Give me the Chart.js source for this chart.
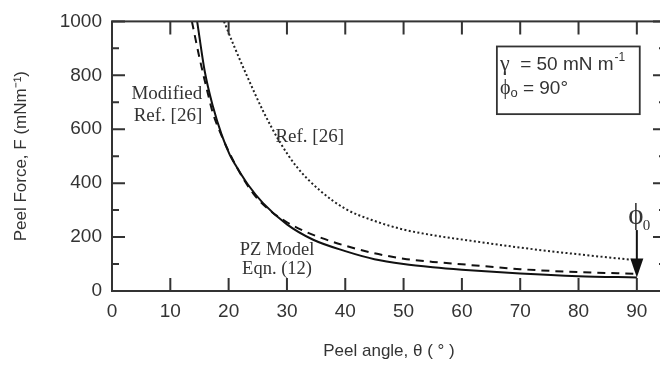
<!DOCTYPE html>
<html lang="en">
<head>
<meta charset="UTF-8">
<title>Peel force vs peel angle</title>
<script src="https://cdn.jsdelivr.net/npm/chart.js"></script>
<style>
  html, body { margin: 0; padding: 0; background: #fff; overflow: hidden; }
  #wrap { width: 660px; height: 366px; overflow: hidden; }
</style>
</head>
<body>
<div id="wrap"><canvas id="peelChart" width="668" height="366"></canvas></div>
<script>
// axis ticks
const xTicks = [0, 10, 20, 30, 40, 50, 60, 70, 80, 90];
const yTicks = [0, 200, 400, 600, 800, 1000];
const yMinorTicks = [100, 300, 500, 700, 900];

// PZ Model, Eqn. (12) - solid
const thetaPZ = [14.6, 15.9, 17.3, 18.8, 20.2, 21.1, 23.3, 25.9, 30, 34.5, 40, 45, 50, 55, 60, 70, 80, 90];
const forcePZ = [1000, 815, 685, 580, 505, 470, 395, 326, 247, 190, 148, 118, 100, 88, 79, 65, 55, 50];

// Modified Ref. [26] - dashed
const thetaMod = [13.7, 15.0, 16.3, 17.3, 19, 21.4, 24.2, 27, 30, 33, 36, 40, 45, 50, 55, 60, 70, 80, 90];
const forceMod = [1000, 865, 745, 660, 566, 459, 362, 300, 255, 222, 196, 168, 140, 120, 108, 99, 81, 70, 64];

// Ref. [26] - dotted
const thetaRef = [19.2, 21, 23.1, 25.9, 28.8, 31.7, 35.7, 40, 45, 50, 55, 60, 70, 80, 90];
const forceRef = [1000, 905, 800, 668, 552, 460, 372, 305, 260, 228, 207, 191, 161, 136, 114];

const ink = '#333';
const sans = 'Liberation Sans, Arial, sans-serif';
const serif = 'Liberation Serif, Times New Roman, serif';

function pts(xs, ys) {
    return xs.map((x, i) => ({ x: x, y: ys[i] }));
}

const framePlugin = {
    id: 'frame',
    afterDatasetsDraw(chart) {
        const ctx = chart.ctx;
        const area = chart.chartArea;
        const xs = chart.scales.x, ys = chart.scales.y;
        const px = v => xs.getPixelForValue(v);
        const py = v => ys.getPixelForValue(v);

        ctx.save();
        ctx.strokeStyle = ink;
        ctx.lineWidth = 2;
        ctx.strokeRect(area.left, area.top, area.right - area.left, area.bottom - area.top);

        // inward ticks on all four sides
        ctx.beginPath();
        xTicks.forEach(v => {
            const x = px(v);
            ctx.moveTo(x, area.bottom); ctx.lineTo(x, area.bottom - 13);
            ctx.moveTo(x, area.top); ctx.lineTo(x, area.top + 13);
        });
        yTicks.forEach(v => {
            const y = py(v);
            ctx.moveTo(area.left, y); ctx.lineTo(area.left + 13, y);
            ctx.moveTo(area.right, y); ctx.lineTo(area.right - 13, y);
        });
        yMinorTicks.forEach(v => {
            const y = py(v);
            ctx.moveTo(area.left, y); ctx.lineTo(area.left + 7, y);
            ctx.moveTo(area.right, y); ctx.lineTo(area.right - 7, y);
        });
        ctx.stroke();

        // curve labels
        ctx.fillStyle = ink;
        ctx.textAlign = 'center';
        ctx.textBaseline = 'middle';
        ctx.font = '19px ' + serif;
        ctx.fillText('Modified', px(9.4), py(731));
        ctx.fillText('Ref. [26]', px(9.6), py(649));
        ctx.fillText('Ref. [26]', px(33.9), py(573));
        ctx.font = '18.5px ' + serif;
        ctx.fillText('PZ Model', px(28.3), py(151));
        ctx.fillText('Eqn. (12)', px(28.3), py(82));

        // parameter box
        const bx0 = px(66), bx1 = px(90.5), by0 = py(907), by1 = py(656);
        ctx.lineWidth = 1.8;
        ctx.strokeRect(bx0, by0, bx1 - bx0, by1 - by0);
        ctx.textAlign = 'left';
        ctx.textBaseline = 'alphabetic';
        let x = bx0 + 3;
        let base = py(820);
        ctx.font = '22px ' + serif;
        ctx.fillText('\u03b3', x, base);
        x += ctx.measureText('\u03b3').width;
        ctx.font = '19px ' + sans;
        ctx.fillText('  = 50 mN m', x, base);
        x += ctx.measureText('  = 50 mN m').width + 1;
        ctx.font = '12px ' + sans;
        ctx.fillText('-1', x, base - 9);

        x = bx0 + 3;
        base = py(730);
        ctx.font = '20px ' + serif;
        ctx.fillText('\u03d5', x, base);
        x += ctx.measureText('\u03d5').width;
        ctx.font = '13px ' + sans;
        ctx.fillText('o', x, base + 3);
        x += ctx.measureText('o').width;
        ctx.font = '19px ' + sans;
        ctx.fillText(' = 90\u00b0', x, base);

        // phi_0 arrow at 90 degrees
        const ax = px(90);
        const tipY = py(50);
        ctx.strokeStyle = '#111';
        ctx.fillStyle = '#111';
        ctx.lineWidth = 2;
        ctx.beginPath();
        ctx.moveTo(ax, py(226));
        ctx.lineTo(ax, tipY - 16);
        ctx.stroke();
        ctx.beginPath();
        ctx.moveTo(ax - 6.5, tipY - 19);
        ctx.lineTo(ax + 6.5, tipY - 19);
        ctx.lineTo(ax, tipY);
        ctx.closePath();
        ctx.fill();

        ctx.fillStyle = ink;
        ctx.textAlign = 'center';
        ctx.textBaseline = 'middle';
        ctx.font = '29px ' + serif;
        ctx.fillText('\u03d5', ax - 1, py(276));
        ctx.font = '15px ' + serif;
        ctx.textAlign = 'left';
        ctx.fillText('0', ax + 6, py(240));
        ctx.restore();
    }
};

const ctx = document.getElementById('peelChart').getContext('2d');
const peelChart = new Chart(ctx, {
    type: 'scatter',
    data: {
        datasets: [
            {
                label: 'PZ Model Eqn. (12)',
                data: pts(thetaPZ, forcePZ),
                showLine: true,
                borderColor: '#111',
                borderWidth: 2,
                pointRadius: 0,
                cubicInterpolationMode: 'monotone'
            },
            {
                label: 'Modified Ref. [26]',
                data: pts(thetaMod, forceMod),
                showLine: true,
                borderColor: '#111',
                borderWidth: 2,
                borderDash: [8, 6],
                pointRadius: 0,
                cubicInterpolationMode: 'monotone'
            },
            {
                label: 'Ref. [26]',
                data: pts(thetaRef, forceRef),
                showLine: true,
                borderColor: '#222',
                borderWidth: 2,
                borderDash: [2, 2.4],
                pointRadius: 0,
                cubicInterpolationMode: 'monotone'
            }
        ]
    },
    options: {
        responsive: false,
        animation: false,
        layout: { padding: { top: 12, right: 2, left: 0, bottom: 0 } },
        plugins: {
            legend: { display: false },
            tooltip: { enabled: false }
        },
        scales: {
            x: {
                type: 'linear',
                min: 0,
                max: 95,
                afterBuildTicks: s => { s.ticks = xTicks.map(v => ({ value: v })); },
                afterFit: s => { s.height = 75; },
                grid: { display: false, drawTicks: false },
                border: { display: false },
                ticks: {
                    padding: 9, color: ink, font: { family: sans, size: 19 },
                    maxRotation: 0, autoSkip: false,
                    callback: v => String(v)
                },
                title: {
                    display: true,
                    text: 'Peel angle, \u03b8 ( \u00b0 )',
                    color: ink,
                    font: { family: sans, size: 17 },
                    padding: { top: 4, bottom: 4 }
                }
            },
            y: {
                min: 0,
                max: 1000,
                afterBuildTicks: s => { s.ticks = yTicks.map(v => ({ value: v })); },
                afterFit: s => { s.width = 112; },
                grid: { display: false, drawTicks: false },
                border: { display: false },
                ticks: {
                    padding: 10, color: ink, font: { family: sans, size: 19 },
                    callback: v => String(v)
                },
                title: {
                    display: true,
                    text: 'Peel Force, F (mNm\u207b\u00b9)',
                    color: ink,
                    font: { family: sans, size: 17 },
                    padding: { top: 11, bottom: 11 }
                }
            }
        }
    },
    plugins: [framePlugin]
});
</script>
</body>
</html>
